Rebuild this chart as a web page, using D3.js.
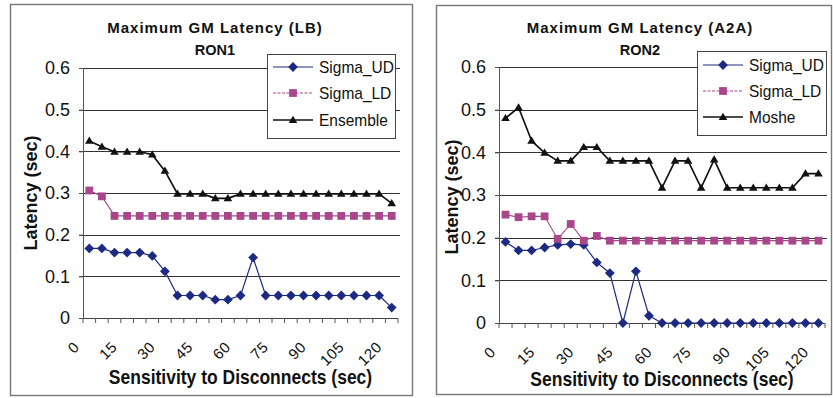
<!DOCTYPE html>
<html>
<head>
<meta charset="utf-8">
<script src="https://cdn.jsdelivr.net/npm/d3@7"></script>
<style>
  html, body { margin: 0; padding: 0; background: #fff; }
  svg { display: block; }
  text { font-family: "Liberation Sans", Arial, sans-serif; fill: #111; }
</style>
</head>
<body>
<svg id="chart" width="833" height="398"></svg>
<script>
// ---------- data ----------
const categories = [0, 5, 10, 15, 20, 25, 30, 35, 40, 45, 50, 55, 60, 65, 70, 75, 80, 85, 90, 95, 100, 105, 110, 115, 120];
const xTickCategories = [0, 15, 30, 45, 60, 75, 90, 105, 120];
const xTickLabels = ["0", "15", "30", "45", "60", "75", "90", "105", "120"];
const yTicks = [0, 0.1, 0.2, 0.3, 0.4, 0.5, 0.6];
const yTickLabels = ["0", "0.1", "0.2", "0.3", "0.4", "0.5", "0.6"];

const lbSigmaUD = [0.167, 0.167, 0.157, 0.157, 0.157, 0.149, 0.112, 0.054, 0.054, 0.054, 0.044, 0.044, 0.054, 0.145, 0.054, 0.054, 0.054, 0.054, 0.054, 0.054, 0.054, 0.054, 0.054, 0.054, 0.025];
const lbSigmaLD = [0.306, 0.292, 0.245, 0.245, 0.245, 0.245, 0.245, 0.245, 0.245, 0.245, 0.245, 0.245, 0.245, 0.245, 0.245, 0.245, 0.245, 0.245, 0.245, 0.245, 0.245, 0.245, 0.245, 0.245, 0.245];
const lbEnsemble = [0.425, 0.411, 0.399, 0.399, 0.399, 0.392, 0.353, 0.298, 0.298, 0.298, 0.287, 0.287, 0.298, 0.298, 0.298, 0.298, 0.298, 0.298, 0.298, 0.298, 0.298, 0.298, 0.298, 0.298, 0.275];

const a2aSigmaUD = [0.19, 0.17, 0.17, 0.177, 0.183, 0.185, 0.183, 0.142, 0.117, 0, 0.121, 0.017, 0, 0, 0, 0, 0, 0, 0, 0, 0, 0, 0, 0, 0];
const a2aSigmaLD = [0.254, 0.248, 0.25, 0.25, 0.197, 0.232, 0.193, 0.204, 0.193, 0.193, 0.193, 0.193, 0.193, 0.193, 0.193, 0.193, 0.193, 0.193, 0.193, 0.193, 0.193, 0.193, 0.193, 0.193, 0.193];
const a2aMoshe = [0.48, 0.505, 0.427, 0.399, 0.38, 0.38, 0.412, 0.412, 0.38, 0.38, 0.38, 0.38, 0.317, 0.38, 0.38, 0.317, 0.383, 0.317, 0.317, 0.317, 0.317, 0.317, 0.317, 0.35, 0.35];

const xAxisTitle = "Sensitivity to Disconnects (sec)";
const yAxisTitle = "Latency (sec)";

// ---------- styles ----------
const seriesStyles = [
  { color: "#1d2a82", width: 1.2, dash: null, marker: "diamond" },
  { color: "#a8478b", width: 1.1, dash: "3,1.5", marker: "square" },
  { color: "#111111", width: 1.7, dash: null, marker: "triangle" }
];

function markerPath(type) {
  if (type === "diamond") { const r = 4.9; return `M0,${-r}L${r},0L0,${r}L${-r},0Z`; }
  if (type === "square") { const r = 3.9; return `M${-r},${-r}H${r}V${r}H${-r}Z`; }
  const w = 4.3, h = 7.2; return `M0,${-h * 0.6}L${w},${h * 0.4}L${-w},${h * 0.4}Z`;
}

const panels = [
  {
    id: "lb",
    frame: { x: 10.5, y: 4.5, w: 402, h: 391 },
    plot: { left: 83, right: 398, top: 68, bottom: 318 },
    titleX: 215, title1: "Maximum GM Latency (LB)", title2: "RON1",
    yTitleX: 31, yTitleY: 193, xTitleY: 384,
    series: [
      { name: "Sigma_UD", values: lbSigmaUD },
      { name: "Sigma_LD", values: lbSigmaLD },
      { name: "Ensemble", values: lbEnsemble }
    ],
    legend: { x: 267, y: 54, w: 128, h: 84, rows: [67, 93, 120], lineX1: 273, lineX2: 313, textX: 319 }
  },
  {
    id: "a2a",
    frame: { x: 436.5, y: 5.5, w: 395, h: 389 },
    plot: { left: 499, right: 825, top: 67, bottom: 323 },
    titleX: 640, title1: "Maximum GM Latency (A2A)", title2: "RON2",
    yTitleX: 452, yTitleY: 197, xTitleY: 386,
    series: [
      { name: "Sigma_UD", values: a2aSigmaUD },
      { name: "Sigma_LD", values: a2aSigmaLD },
      { name: "Moshe", values: a2aMoshe }
    ],
    legend: { x: 697, y: 51, w: 129, h: 84, rows: [65, 91, 117], lineX1: 703, lineX2: 743, textX: 749 }
  }
];

const svg = d3.select("#chart");

panels.forEach(p => {
  const g = svg.append("g");

  // frame
  g.append("rect")
    .attr("x", p.frame.x).attr("y", p.frame.y)
    .attr("width", p.frame.w).attr("height", p.frame.h)
    .attr("fill", "#fff").attr("stroke", "#777").attr("stroke-width", 1.4);

  const x = d3.scaleBand().domain(categories).range([p.plot.left, p.plot.right]).padding(0);
  const y = d3.scaleLinear().domain([0, 0.6]).range([p.plot.bottom, p.plot.top]);
  const cx = c => x(c) + x.bandwidth() / 2;

  // gridlines
  g.append("g").selectAll("line").data(yTicks.filter(t => t > 0)).join("line")
    .attr("x1", p.plot.left - 4).attr("x2", p.plot.right + 2)
    .attr("y1", d => Math.round(y(d)) + 0.5).attr("y2", d => Math.round(y(d)) + 0.5)
    .attr("stroke", "#333").attr("stroke-width", 1);

  // y axis
  const yAxis = d3.axisLeft(y).tickValues(yTicks)
    .tickFormat((d, i) => yTickLabels[i]).tickSize(4).tickPadding(9);
  const yg = g.append("g").attr("transform", `translate(${p.plot.left},0)`).call(yAxis);
  yg.select(".domain").attr("stroke", "#555");
  yg.selectAll(".tick line").attr("stroke", "#555");
  yg.selectAll(".tick text").attr("font-size", 18).attr("fill", "#111")
    .attr("font-family", "Liberation Sans, Arial, sans-serif");

  // x axis line with boundary ticks
  const xg = g.append("g");
  xg.append("line")
    .attr("x1", p.plot.left).attr("x2", p.plot.right)
    .attr("y1", p.plot.bottom + 0.5).attr("y2", p.plot.bottom + 0.5)
    .attr("stroke", "#444").attr("stroke-width", 1.2);
  const bounds = categories.map(c => x(c)).concat([x(categories[categories.length - 1]) + x.bandwidth()]);
  xg.selectAll("line.tk").data(bounds).join("line").attr("class", "tk")
    .attr("x1", d => d).attr("x2", d => d)
    .attr("y1", p.plot.bottom).attr("y2", p.plot.bottom + 5)
    .attr("stroke", "#555");

  // x tick labels, rotated 45 degrees
  xg.selectAll("text.xl").data(xTickCategories).join("text").attr("class", "xl")
    .attr("transform", d => `translate(${cx(d) - 9},${p.plot.bottom + 30}) rotate(-45)`)
    .attr("text-anchor", "end")
    .attr("font-size", 15)
    .attr("letter-spacing", "0.5px")
    .text((d, i) => xTickLabels[i]);

  // series
  p.series.forEach((s, si) => {
    const st = seriesStyles[si];
    const line = d3.line().x((d, i) => cx(categories[i])).y(d => y(d));
    g.append("path").datum(s.values)
      .attr("d", line).attr("fill", "none")
      .attr("stroke", st.color).attr("stroke-width", st.width)
      .attr("stroke-linejoin", "round");
    g.append("g").selectAll("path").data(s.values).join("path")
      .attr("d", markerPath(st.marker))
      .attr("transform", (d, i) => `translate(${cx(categories[i])},${y(d)})`)
      .attr("fill", st.color);
  });

  // titles
  g.append("text").attr("x", p.titleX).attr("y", 33).attr("text-anchor", "middle")
    .attr("font-size", 15).attr("font-weight", "bold").attr("letter-spacing", "1px")
    .text(p.title1);
  g.append("text").attr("x", p.titleX).attr("y", 55).attr("text-anchor", "middle")
    .attr("font-size", 14.5).attr("font-weight", "bold")
    .text(p.title2);

  // axis titles
  g.append("text")
    .attr("transform", `translate(${(p.plot.left + p.plot.right) / 2},${p.xTitleY}) scale(1,1.12)`)
    .attr("text-anchor", "middle").attr("font-size", 17.5).attr("font-weight", "bold")
    .text(xAxisTitle);
  g.append("text")
    .attr("transform", `translate(${p.yTitleX},${p.yTitleY}) rotate(-90)`)
    .attr("text-anchor", "middle").attr("dy", "0.35em")
    .attr("font-size", 18).attr("font-weight", "bold")
    .text(yAxisTitle);

  // legend
  const L = p.legend;
  const lg = g.append("g");
  lg.append("rect").attr("x", L.x + 0.5).attr("y", L.y + 0.5).attr("width", L.w).attr("height", L.h)
    .attr("fill", "#fff").attr("stroke", "#444").attr("stroke-width", 1);
  p.series.forEach((s, si) => {
    const st = seriesStyles[si];
    const ry = L.rows[si];
    lg.append("line").attr("x1", L.lineX1).attr("x2", L.lineX2).attr("y1", ry).attr("y2", ry)
      .attr("stroke", st.color).attr("stroke-width", st.width)
      .attr("stroke-dasharray", st.dash);
    lg.append("path").attr("d", markerPath(st.marker))
      .attr("transform", `translate(${(L.lineX1 + L.lineX2) / 2},${ry})`)
      .attr("fill", st.color);
    lg.append("text")
      .attr("transform", `translate(${L.textX},${ry}) scale(1,1.12)`)
      .attr("dy", "0.35em")
      .attr("font-size", 15.5).text(s.name);
  });
});
</script>
</body>
</html>
